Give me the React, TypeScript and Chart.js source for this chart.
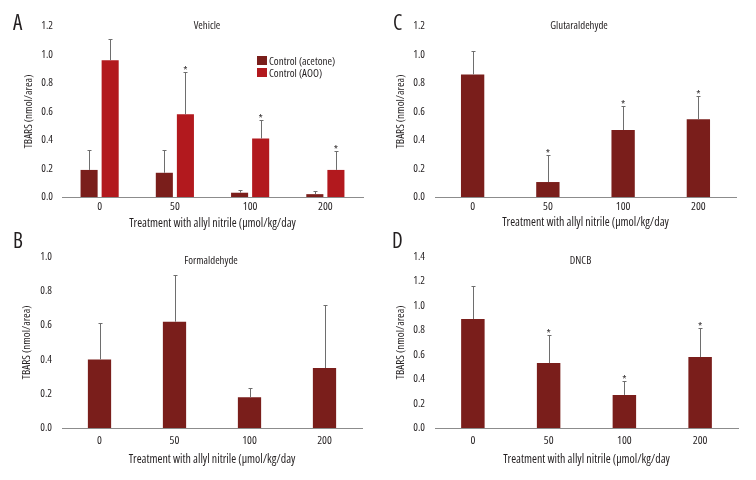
import { useEffect, useRef } from "react";
import { Chart, registerables } from "chart.js";

Chart.register(...registerables);

const FAMILY = "'Open Sans', 'DejaVu Sans', sans-serif";
const STRETCH = "condensed";

// ---------- data ----------
const categories = ["0", "50", "100", "200"];
const xAxisTitle = "Treatment with allyl nitrile (μmol/kg/day";
const yAxisTitle = "TBARS (nmol/area)";
const legendLabels = ["Control (acetone)", "Control (AOO)"];

const vehicleAcetone = [0.19, 0.17, 0.03, 0.02];
const vehicleAcetoneErr = [0.14, 0.16, 0.022, 0.02];
const vehicleAcetoneSig = [false, false, false, false];
const vehicleAoo = [0.96, 0.58, 0.41, 0.19];
const vehicleAooErr = [0.15, 0.295, 0.13, 0.136];
const vehicleAooSig = [false, true, true, true];

const formaldehyde = [0.4, 0.62, 0.18, 0.35];
const formaldehydeErr = [0.21, 0.27, 0.055, 0.37];
const formaldehydeSig = [false, false, false, false];

const glutaraldehyde = [0.86, 0.105, 0.47, 0.545];
const glutaraldehydeErr = [0.165, 0.19, 0.172, 0.162];
const glutaraldehydeSig = [false, true, true, true];

const dncb = [0.89, 0.53, 0.27, 0.58];
const dncbErr = [0.272, 0.232, 0.117, 0.237];
const dncbSig = [false, true, true, true];

// ---------- styling ----------
const DARK = "#7a1e1b";
const RED = "#b2191e";
const TEXT = "#231f20";

const cssFont = (size: number) => `${STRETCH} ${size}px ${FAMILY}`;
const cjsFont = (size: number) => ({ family: FAMILY, size, weight: STRETCH as any });

const errorBarPlugin = {
  id: "errorBars",
  afterDatasetsDraw(chart: any) {
    const ctx = chart.ctx;
    const yScale = chart.scales.y;
    chart.data.datasets.forEach((ds: any, di: number) => {
      const meta = chart.getDatasetMeta(di);
      const errs = ds.errors || [];
      const sig = ds.sig || [];
      meta.data.forEach((el: any, i: number) => {
        const v = ds.data[i];
        const e = errs[i];
        if (e == null) return;
        const yTop = Math.round(yScale.getPixelForValue(v + e)) + 0.5;
        const x = Math.round(el.x) + 0.5;
        ctx.save();
        ctx.strokeStyle = "#6e6e6e";
        ctx.lineWidth = 1;
        ctx.beginPath();
        ctx.moveTo(x, el.y);
        ctx.lineTo(x, yTop);
        ctx.moveTo(x - 2, yTop);
        ctx.lineTo(x + 2, yTop);
        ctx.stroke();
        if (sig[i]) {
          ctx.fillStyle = TEXT;
          ctx.font = cssFont(11);
          ctx.textAlign = "center";
          ctx.textBaseline = "alphabetic";
          ctx.fillText("*", el.x, yTop + 1);
        }
        ctx.restore();
      });
    });
  },
};

const decoPlugin = {
  id: "deco",
  afterDraw(chart: any, _args: any, opts: any) {
    const ctx = chart.ctx;
    ctx.save();
    ctx.fillStyle = TEXT;
    ctx.font = cssFont(10.8);
    ctx.textAlign = "center";
    ctx.textBaseline = "alphabetic";
    ctx.fillText(opts.title, opts.titleX, opts.titleY);
    if (opts.legend) {
      chart.data.datasets.forEach((ds: any, i: number) => {
        const y = opts.legend.y + i * opts.legend.gap;
        ctx.fillStyle = ds.backgroundColor;
        ctx.fillRect(opts.legend.x, y, 10, 9);
        ctx.fillStyle = TEXT;
        ctx.font = cssFont(11);
        ctx.textAlign = "left";
        ctx.textBaseline = "alphabetic";
        ctx.fillText(ds.label, opts.legend.x + 12, y + 8.5);
      });
    }
    ctx.restore();
  },
};

type PanelCfg = {
  letter: string;
  x: number;
  y: number;
  left: number;
  right: number;
  top: number;
  bottom: number;
  max: number;
  yTickPad: number;
  yTitlePad: number;
  xTickPad: number;
  xTitlePad: number;
  title: string;
  titleX: number;
  titleY: number;
  letterX: number;
  letterY: number;
  legend?: { x: number; y: number; gap: number };
  datasets: any[];
};

const single = (label: string, data: number[], errors: number[], sig: boolean[]) => ({
  label,
  data,
  errors,
  sig,
  backgroundColor: DARK,
  categoryPercentage: 0.31,
  barPercentage: 1.0,
});

const panels: PanelCfg[] = [
  {
    letter: "A", x: 0, y: 0, left: 62, right: 363, top: 26, bottom: 197, max: 1.2,
    yTickPad: 9, yTitlePad: 22, xTickPad: 3, xTitlePad: 9,
    title: "Vehicle", titleX: 207, titleY: 29,
    letterX: 13, letterY: 11.5,
    legend: { x: 257, y: 56, gap: 12 },
    datasets: [
      { label: legendLabels[0], data: vehicleAcetone, errors: vehicleAcetoneErr, sig: vehicleAcetoneSig, backgroundColor: DARK, categoryPercentage: 0.56, barPercentage: 0.81 },
      { label: legendLabels[1], data: vehicleAoo, errors: vehicleAooErr, sig: vehicleAooSig, backgroundColor: RED, categoryPercentage: 0.56, barPercentage: 0.81 },
    ],
  },
  {
    letter: "B", x: 0, y: 240, left: 62, right: 362, top: 16, bottom: 188, max: 1.0,
    yTickPad: 10, yTitlePad: 20, xTickPad: 6, xTitlePad: 13,
    title: "Formaldehyde", titleX: 211, titleY: 24,
    letterX: 13, letterY: -10.5,
    datasets: [single("Formaldehyde", formaldehyde, formaldehydeErr, formaldehydeSig)],
  },
  {
    letter: "C", x: 378, y: 0, left: 57, right: 358, top: 26, bottom: 197, max: 1.2,
    yTickPad: 10, yTitlePad: 16, xTickPad: 3, xTitlePad: 10,
    title: "Glutaraldehyde", titleX: 201, titleY: 29,
    letterX: 15, letterY: 11.5,
    datasets: [single("Glutaraldehyde", glutaraldehyde, glutaraldehydeErr, glutaraldehydeSig)],
  },
  {
    letter: "D", x: 378, y: 240, left: 57, right: 360, top: 16, bottom: 188, max: 1.4,
    yTickPad: 10, yTitlePad: 16, xTickPad: 6, xTitlePad: 13,
    title: "DNCB", titleX: 202.5, titleY: 23.5,
    letterX: 14, letterY: -10.5,
    datasets: [single("DNCB", dncb, dncbErr, dncbSig)],
  },
];

function Panel({ cfg }: { cfg: PanelCfg }) {
  const ref = useRef<HTMLCanvasElement>(null);
  useEffect(() => {
    const chart = new Chart(ref.current as HTMLCanvasElement, {
      type: "bar",
      data: { labels: categories, datasets: cfg.datasets.map((d) => ({ ...d, borderWidth: 0 })) },
      options: {
        animation: false,
        responsive: false,
        devicePixelRatio: 1,
        layout: { padding: { top: cfg.top, right: 378 - cfg.right, bottom: 0, left: 0 } },
        plugins: {
          legend: { display: false },
          tooltip: { enabled: false },
          deco: { title: cfg.title, titleX: cfg.titleX, titleY: cfg.titleY, legend: cfg.legend },
        } as any,
        scales: {
          x: {
            grid: { display: false, drawTicks: false },
            border: { display: true, color: "#8c8c8c", width: 1 },
            ticks: { font: cjsFont(11.5), color: TEXT, padding: cfg.xTickPad, maxRotation: 0 },
            title: {
              display: true,
              text: xAxisTitle,
              font: cjsFont(11.9),
              color: TEXT,
              padding: { top: 0, bottom: cfg.xTitlePad },
            },
            afterFit: (s: any) => {
              s.height = 240 - cfg.bottom;
            },
          },
          y: {
            min: 0,
            max: cfg.max,
            grid: { display: false, drawTicks: false },
            border: { display: false },
            ticks: {
              stepSize: 0.2,
              font: cjsFont(11),
              color: TEXT,
              padding: cfg.yTickPad,
              callback: (v: any) => Number(v).toFixed(1),
            },
            title: {
              display: true,
              text: yAxisTitle,
              font: cjsFont(11.2),
              color: TEXT,
              padding: { top: cfg.yTitlePad, bottom: 0 },
            },
            afterFit: (s: any) => {
              s.width = cfg.left;
            },
          },
        },
      } as any,
      plugins: [errorBarPlugin, decoPlugin],
    });
    return () => chart.destroy();
  }, [cfg]);
  return (
    <div style={{ position: "absolute", left: cfg.x, top: cfg.y, width: 378, height: 240 }}>
      <canvas ref={ref} width={378} height={240} style={{ width: 378, height: 240, display: "block" }} />
    </div>
  );
}

export default function App() {
  return (
    <div style={{ position: "absolute", left: 0, top: 0, width: 756, height: 480, background: "#fff", overflow: "hidden" }}>
      {panels.map((p) => (
        <Panel key={p.letter} cfg={p} />
      ))}
      {panels.map((p) => (
        <div
          key={"l" + p.letter}
          style={{
            position: "absolute",
            left: p.x + p.letterX,
            top: p.y + p.letterY,
            fontFamily: FAMILY,
            fontStretch: STRETCH,
            fontSize: 21,
            lineHeight: "1",
            color: TEXT,
          }}
        >
          {p.letter}
        </div>
      ))}
    </div>
  );
}
